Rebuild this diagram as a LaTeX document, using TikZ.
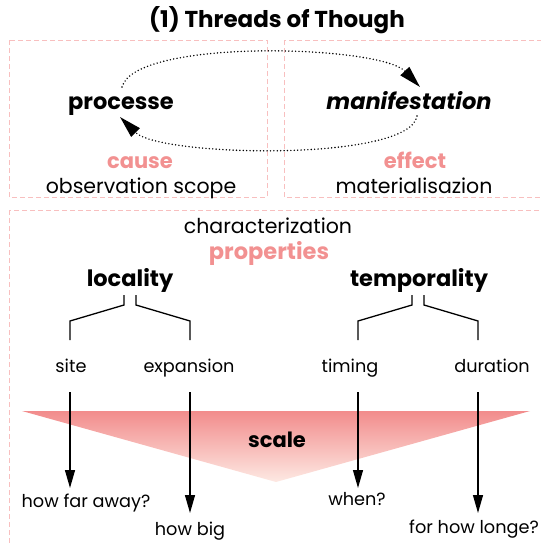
\documentclass[tikz,border=0pt]{standalone}
\usepackage{fontspec}
\setmainfont{Poppins}
\usetikzlibrary{arrows.meta,positioning}
\definecolor{pinkish}{HTML}{F29191}
\definecolor{pinkline}{HTML}{F8BFBF}
\definecolor{pinktop}{HTML}{F28C8C}
\definecolor{pinkbottom}{HTML}{FDE9E3}

\begin{document}
\begin{tikzpicture}[x=1pt,y=-1pt,
    every node/.style={inner sep=0pt,anchor=base},
    frame/.style={draw=pinkline,line width=0.9pt,dash pattern=on 5pt off 3pt},
    titled/.style={font=\bfseries\fontsize{23}{23}\selectfont},
    head/.style={font=\bfseries\fontsize{22.5}{22.5}\selectfont},
    key/.style={font=\bfseries\fontsize{21}{21}\selectfont,text=pinkish},
    plain/.style={font=\fontsize{20.5}{20.5}\selectfont},
    small/.style={font=\fontsize{17.7}{17.7}\selectfont},
    ring/.style={line width=1.6pt,line cap=round,dash pattern=on 0pt off 3.4pt,
      -{Triangle[length=22pt,width=12pt]}},
    down/.style={line width=1.3pt,-{Triangle[length=18pt,width=10pt]}},
    branch/.style={line width=1.3pt}]
  \useasboundingbox (0,0) rectangle (541,544);

  % frames
  \draw[frame] (9,40) rectangle (267,197);
  \draw[frame] (284,40) rectangle (560,197);
  \draw[frame] (9,210) rectangle (560,560);

  \node[titled] (title) at (277,27) {(1) Threads of Though};

  % upper part
  \node[head] (proc) at (121,109) {processe};
  \node[head] (mani) at (409,109) {\itshape manifestation};
  \node[key] (cause) at (140,168) {cause};
  \node[plain] (scope) at (141,193) {observation scope};
  \node[key] (effect) at (415,168) {effect};
  \node[plain] (mat) at (414,193) {materialisazion};

  \draw[ring] ([xshift=1pt,yshift=22pt]proc.base)
      .. controls +(13,-49) and +(-40,-42) .. ([xshift=11pt,yshift=22pt]mani.base);
  \draw[ring] ([xshift=8pt,yshift=-7pt]mani.base)
      .. controls +(-7,46) and +(40,40) .. ([xshift=-1pt,yshift=-8pt]proc.base);

  % lower part
  \shade[top color=pinktop,bottom color=pinkbottom] (22,411) -- (530,411) -- (276,482) -- cycle;

  \node[plain] (char) at (268,233) {characterization};
  \node[key,font=\bfseries\fontsize{22.5}{22.5}\selectfont] (prop) at (269,259) {properties};
  \node[head] (loc) at (130,286) {locality};
  \node[head] (temp) at (419,286) {temporality};
  \node[small] (site) at (71,372) {site};
  \node[small] (exp) at (189,372) {expansion};
  \node[small] (timing) at (350,372) {timing};
  \node[small] (dur) at (492,372) {duration};
  \node[head,font=\bfseries\fontsize{21}{21}\selectfont] (scale) at (277,447) {scale};
  \node[small] (far) at (86,507) {how far away?};
  \node[small] (big) at (190,535) {how big};
  \node[small] (when) at (357,505) {when?};
  \node[small] (long) at (474,533) {for how longe?};

  \draw[branch] ([xshift=-6pt,yshift=-9pt]loc.base) -- ++(0,10) -- ++(-54,16) -- ++(0,19);
  \draw[branch] ([xshift=6pt,yshift=-9pt]loc.base) -- ++(0,10) -- ++(54,16) -- ++(0,19);
  \draw[branch] ([xshift=-7pt,yshift=-9pt]temp.base) -- ++(0,10) -- ++(-54,16) -- ++(0,19);
  \draw[branch] ([xshift=5pt,yshift=-9pt]temp.base) -- ++(0,10) -- ++(54,16) -- ++(0,19);

  \path[down]
    ([xshift=-1pt,yshift=-20pt]site.base) edge ([xshift=-16pt,yshift=19pt]far.base)
    ([xshift=1pt,yshift=-20pt]exp.base) edge ([yshift=22pt]big.base)
    ([xshift=8pt,yshift=-20pt]timing.base) edge ([xshift=1pt,yshift=17pt]when.base)
    ([xshift=-14pt,yshift=-20pt]dur.base) edge ([xshift=4pt,yshift=20pt]long.base);
\end{tikzpicture}
\end{document}
